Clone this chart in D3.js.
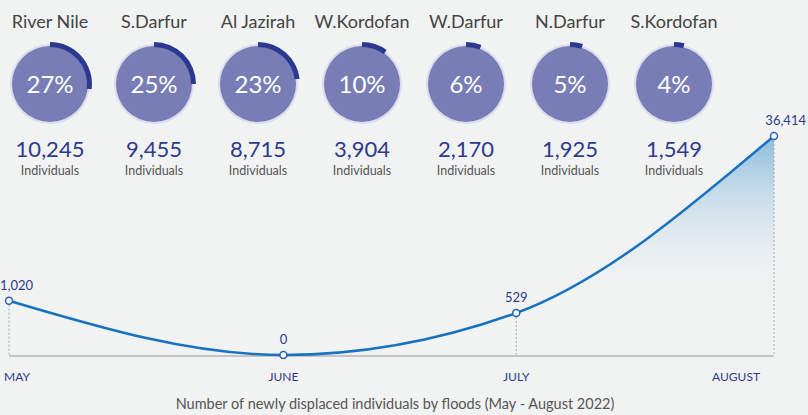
<!DOCTYPE html>
<html>
<head>
<meta charset="utf-8">
<script src="https://cdn.jsdelivr.net/npm/d3@7"></script>
<style>
  body { margin: 0; background: #f1f2f2; }
  svg { display: block; font-family: Lato, "Open Sans", sans-serif; }
</style>
</head>
<body>
<div id="chart"></div>
<script>
// States (top row)
const states = ["River Nile", "S.Darfur", "Al Jazirah", "W.Kordofan", "W.Darfur", "N.Darfur", "S.Kordofan"];
const statePct = [27, 25, 23, 10, 6, 5, 4];
const stateCount = [10245, 9455, 8715, 3904, 2170, 1925, 1549];

// Monthly trend
const months = ["MAY", "JUNE", "JULY", "AUGUST"];
const monthDates = ["2022-05-01", "2022-06-03", "2022-07-01", "2022-08-01"];
const monthValues = [1020, 0, 529, 36414];

const width = 808;
const height = 415;
const fmt = d3.format(",");

const svg = d3.select("#chart")
  .append("svg")
  .attr("width", width)
  .attr("height", height);

svg.append("rect").attr("width", width).attr("height", height).attr("fill", "#f1f2f2");

// ---- donut row ----
const xState = d3.scalePoint().domain(states).range([50, 674]);
const arc = d3.arc().innerRadius(37).outerRadius(42).startAngle(0);
const cy = 84;

const cell = svg.append("g")
  .selectAll("g")
  .data(states)
  .join("g")
  .attr("transform", (d) => `translate(${xState(d)},0)`);

cell.append("text")
  .attr("y", 28)
  .attr("text-anchor", "middle")
  .attr("font-size", 18)
  .attr("fill", "#444")
  .text((d) => d);

cell.append("circle")
  .attr("cy", cy)
  .attr("r", 40)
  .attr("fill", "#dcdcee");

cell.append("circle")
  .attr("cy", cy)
  .attr("r", 38)
  .attr("fill", "#787db6");

cell.append("path")
  .attr("transform", `translate(0,${cy})`)
  .attr("fill", "#2b3990")
  .attr("d", (d, i) => arc({ endAngle: (statePct[i] / 100) * 2 * Math.PI }));

cell.append("text")
  .attr("y", cy + 9)
  .attr("text-anchor", "middle")
  .attr("font-size", 24)
  .attr("fill", "#fff")
  .text((d, i) => statePct[i] + "%");

cell.append("text")
  .attr("y", 157)
  .attr("text-anchor", "middle")
  .attr("font-size", 22)
  .attr("fill", "#2e3a8c")
  .text((d, i) => fmt(stateCount[i]));

cell.append("text")
  .attr("y", 175)
  .attr("text-anchor", "middle")
  .attr("font-size", 12.5)
  .attr("fill", "#555")
  .text("Individuals");

// ---- line chart ----
const parse = d3.timeParse("%Y-%m-%d");
const points = months.map((m, i) => ({ month: m, date: parse(monthDates[i]), value: monthValues[i] }));

const baseY = 356;
const xScale = d3.scaleTime()
  .domain(d3.extent(points, (d) => d.date))
  .range([9, 774]);
const yScale = d3.scalePow().exponent(0.39)
  .domain([0, d3.max(monthValues)])
  .range([baseY - 1, 136]);

const defs = svg.append("defs");
const grad = defs.append("linearGradient")
  .attr("id", "areaGrad")
  .attr("gradientUnits", "userSpaceOnUse")
  .attr("x1", 0).attr("x2", 0)
  .attr("y1", yScale(d3.max(monthValues))).attr("y2", 300);
grad.append("stop").attr("offset", 0).attr("stop-color", "#8bbcdd").attr("stop-opacity", 1);
grad.append("stop").attr("offset", 1).attr("stop-color", "#f1f2f2").attr("stop-opacity", 0);

const area = d3.area()
  .x((d) => xScale(d.date))
  .y0(baseY)
  .y1((d) => yScale(d.value))
  .curve(d3.curveMonotoneX);

const line = d3.line()
  .x((d) => xScale(d.date))
  .y((d) => yScale(d.value))
  .curve(d3.curveMonotoneX);

svg.append("path")
  .datum(points)
  .attr("fill", "url(#areaGrad)")
  .attr("d", area);

// dotted drops
svg.append("g")
  .selectAll("line")
  .data(points.filter((d) => d.value > 0))
  .join("line")
  .attr("x1", (d) => xScale(d.date))
  .attr("x2", (d) => xScale(d.date))
  .attr("y1", (d) => yScale(d.value) + 4)
  .attr("y2", baseY)
  .attr("stroke", "#aaa")
  .attr("stroke-width", 1)
  .attr("stroke-dasharray", "2,2");

// baseline
svg.append("line")
  .attr("x1", xScale.range()[0])
  .attr("x2", xScale.range()[1])
  .attr("y1", baseY)
  .attr("y2", baseY)
  .attr("stroke", "#b3b3b3")
  .attr("stroke-width", 1.5);

svg.append("path")
  .datum(points)
  .attr("fill", "none")
  .attr("stroke", "#1872c0")
  .attr("stroke-width", 2.5)
  .attr("d", line);

svg.append("g")
  .selectAll("circle")
  .data(points)
  .join("circle")
  .attr("cx", (d) => xScale(d.date))
  .attr("cy", (d) => yScale(d.value))
  .attr("r", 3.5)
  .attr("fill", "#fff")
  .attr("stroke", "#2563b0")
  .attr("stroke-width", 1.5);

const last = points.length - 1;

// value labels
svg.append("g")
  .selectAll("text")
  .data(points)
  .join("text")
  .attr("x", (d, i) => (i === 0 ? xScale(d.date) - 9 : i === last ? width - 2 : xScale(d.date)))
  .attr("y", (d) => yScale(d.value) - 11)
  .attr("text-anchor", (d, i) => (i === 0 ? "start" : i === last ? "end" : "middle"))
  .attr("font-size", 13)
  .attr("fill", "#2e3a8c")
  .text((d) => fmt(d.value));

// month labels
svg.append("g")
  .selectAll("text")
  .data(points)
  .join("text")
  .attr("x", (d, i) => (i === 0 ? xScale(d.date) - 5 : i === last ? xScale(d.date) - 14 : xScale(d.date)))
  .attr("y", 381)
  .attr("text-anchor", (d, i) => (i === 0 ? "start" : i === last ? "end" : "middle"))
  .attr("font-size", 12)
  .attr("fill", "#2e3a8c")
  .text((d) => d.month);

svg.append("text")
  .attr("x", 395)
  .attr("y", 409)
  .attr("text-anchor", "middle")
  .attr("font-size", 14.5)
  .attr("fill", "#555")
  .text("Number of newly displaced individuals by floods (May - August 2022)");
</script>
</body>
</html>
